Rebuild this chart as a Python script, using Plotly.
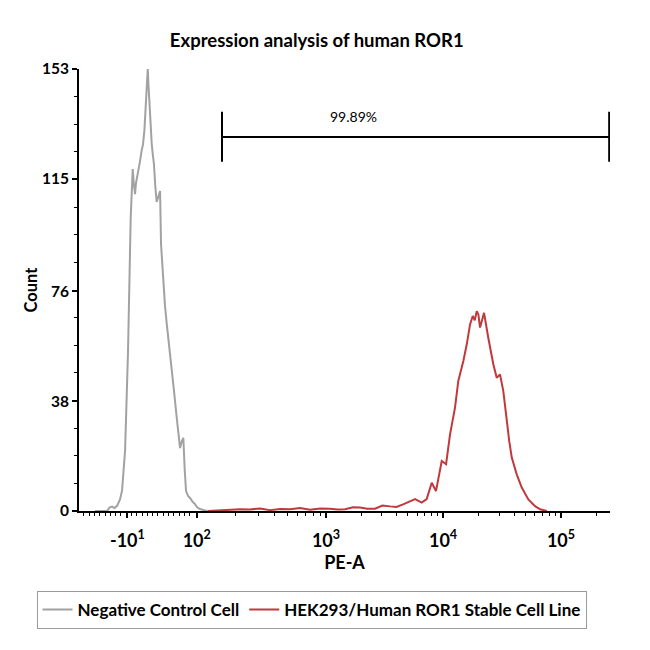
import numpy as np
import plotly.graph_objects as go

# x values are in display units of the biexponential PE-A axis (1 unit ~ 1 decade)
neg_x = [1.034, 1.136, 1.158, 1.179, 1.200, 1.222, 1.247, 1.264, 1.290, 1.315, 1.338,
         1.347, 1.355, 1.365, 1.375, 1.383, 1.392, 1.405, 1.417, 1.430, 1.443, 1.455,
         1.468, 1.476, 1.483, 1.490, 1.496, 1.507, 1.517, 1.527, 1.536, 1.548, 1.559,
         1.575, 1.588, 1.596, 1.606, 1.616, 1.630, 1.645, 1.666, 1.687, 1.708, 1.730,
         1.745, 1.758, 1.772, 1.786, 1.798, 1.809, 1.826, 1.843, 1.865, 1.885, 1.905,
         1.928, 1.971, 2.000]
neg_y = [0, 0, 1.2, 1.5, 1.0, 1.8, 4.0, 7.0, 20.8, 55.0, 101.5,
         112.0, 118.4, 113.0, 109.7, 113.5, 115.3, 118.0, 121.0, 124.5, 127.0, 132.0,
         144.0, 148.0, 153.0, 147.0, 142.0, 134.0, 127.0, 123.0, 120.0, 112.0, 107.0,
         109.0, 110.8, 92.4, 85.0, 78.6, 71.0, 64.7, 56.0, 49.5, 41.0, 32.2,
         26.0, 21.8, 24.0, 25.3, 14.0, 6.9, 5.2, 4.5, 3.2, 2.4, 1.2,
         0.7, 0.2, 0]

pos_x = [1.996, 2.090, 2.183, 2.270, 2.353, 2.440, 2.524, 2.610, 2.694, 2.780, 2.864,
         2.950, 3.034, 3.100, 3.162, 3.230, 3.290, 3.350, 3.417, 3.480, 3.545, 3.600,
         3.656, 3.710, 3.758, 3.815, 3.857, 3.900, 3.936, 3.985, 4.022, 4.056, 4.098,
         4.126, 4.169, 4.198, 4.226, 4.249, 4.266, 4.283, 4.297, 4.311, 4.328, 4.345,
         4.382, 4.424, 4.453, 4.481, 4.509, 4.538, 4.560, 4.581, 4.623, 4.666, 4.722,
         4.779, 4.822, 4.879]
pos_y = [0, 0.2, 0.3, 0.6, 0.5, 0.9, 0.3, 0.7, 0.6, 1.0, 0.4,
         0.9, 0.8, 0.5, 0.6, 1.3, 1.2, 0.8, 0.8, 1.9, 1.6, 1.4,
         2.3, 3.3, 4.1, 2.9, 4.1, 9.8, 6.9, 17.3, 16.2, 26.6, 35.8,
         45.0, 51.9, 57.7, 64.6, 67.5, 66.0, 69.2, 68.0, 63.5, 66.0, 68.6,
         59.8, 50.8, 46.1, 47.3, 41.5, 31.2, 24.0, 18.5, 12.7, 8.1, 4.0,
         1.7, 0.6, 0]

x_tickvals = [1.31, 1.90, 3.0, 3.996, 5.0]
x_ticktext = ["-10<sup>1</sup>", "10<sup>2</sup>", "10<sup>3</sup>", "10<sup>4</sup>", "10<sup>5</sup>"]
y_tickvals = [0, 38, 76, 115, 153]

gate_left, gate_right, gate_y = 2.115, 5.41, 129.5
gate_label = "99.89%"

x_min, x_max = 0.898, 5.417

# minor ticks: linear near zero, log spaced in the decades
minor_x = list(np.arange(0.94, 1.87, 0.045))
for lo, hi in [(1.90, 3.0), (3.0, 3.996), (3.996, 5.0), (5.0, 6.0)]:
    for k in range(2, 10):
        v = lo + (hi - lo) * np.log10(k)
        if v < x_max:
            minor_x.append(v)
minor_y = [v for v in np.arange(0, 153, 153 / 16) if v not in y_tickvals]

font = dict(family="Lato, Open Sans, sans-serif", color="black")

fig = go.Figure()
fig.add_trace(go.Scatter(x=neg_x, y=neg_y, mode="lines", name="Negative Control Cell",
                         line=dict(color="#a2a2a2", width=2)))
fig.add_trace(go.Scatter(x=pos_x, y=pos_y, mode="lines", name="HEK293/Human ROR1 Stable Cell Line",
                         line=dict(color="#c0393c", width=2)))

# gate marker
fig.add_shape(type="line", x0=gate_left, x1=gate_right, y0=gate_y, y1=gate_y,
              line=dict(color="black", width=2))
for gx in [gate_left, gate_right]:
    fig.add_shape(type="line", x0=gx, x1=gx, y0=120.9, y1=138.2,
                  line=dict(color="black", width=2))
fig.add_annotation(x=3.23, y=136.4, text=gate_label, showarrow=False,
                   font=dict(size=14, **font))

fig.update_layout(
    width=650, height=650,
    margin=dict(l=71, r=48, t=61, b=147),
    paper_bgcolor="white", plot_bgcolor="white",
    title=dict(text="Expression analysis of human ROR1", x=0.475, xanchor="center",
               y=1 - 33 / 650, yanchor="middle", font=dict(size=18.5, weight="bold", **font)),
    showlegend=True,
    legend=dict(orientation="h", x=-0.08, xanchor="left", y=-0.181, yanchor="top",
                bordercolor="#9a9a9a", borderwidth=1, font=dict(size=17, weight="bold", **font),
                itemwidth=30, tracegroupgap=0),
)
fig.update_xaxes(range=[x_min, x_max], showgrid=False, zeroline=False,
                 showline=True, linecolor="black", linewidth=2,
                 ticks="outside", ticklen=5, tickwidth=1.5, tickcolor="black",
                 tickvals=x_tickvals, ticktext=x_ticktext, ticklabelstandoff=7,
                 tickfont=dict(size=18, weight="bold", **font),
                 minor=dict(tickvals=minor_x, ticks="outside", ticklen=3, tickcolor="black", tickwidth=1),
                 title=dict(text="PE-A", standoff=0, font=dict(size=18, weight="bold", **font)))
fig.update_yaxes(range=[0, 153], showgrid=False, zeroline=False,
                 showline=True, linecolor="black", linewidth=2,
                 ticks="outside", ticklen=5, tickwidth=1.5, tickcolor="black",
                 tickvals=y_tickvals, tickfont=dict(size=15.5, weight="bold", **font),
                 minor=dict(tickvals=minor_y, ticks="outside", ticklen=3, tickcolor="black", tickwidth=1),
                 title=dict(text="Count", standoff=0, font=dict(size=16.5, weight="bold", **font)))

fig.write_html("out.html")
